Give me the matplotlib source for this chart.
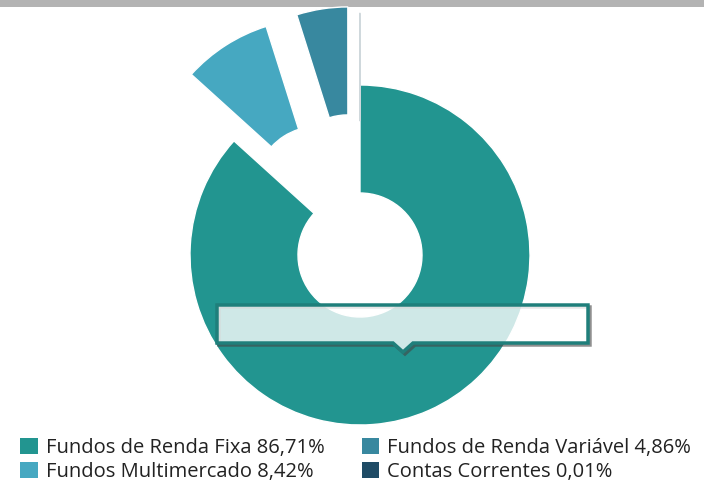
import matplotlib
matplotlib.use("Agg")
import matplotlib.pyplot as plt
from matplotlib.patches import Polygon, Rectangle

plt.rcParams['font.family'] = ['Open Sans', 'DejaVu Sans']

# data
categories = ['Fundos de Renda Fixa', 'Fundos Multimercado',
              'Fundos de Renda Variável', 'Contas Correntes']
values = [86.71, 8.42, 4.86, 0.01]
colors = ['#229590', '#46A8C1', '#38889F', '#1E4B65']
explode = [0, 79, 79, 72]

W, H = 704, 483
fig = plt.figure(figsize=(W / 100, H / 100), dpi=100)
ax = fig.add_axes([0, 0, 1, 1])
ax.set_xlim(0, W)
ax.set_ylim(0, H)
ax.set_aspect('equal')
ax.axis('off')

# grey band on top
ax.add_patch(Rectangle((0, H - 7), W, 7, color='#B3B3B3', lw=0))

cx, cy, r_out, r_in = 360, H - 255, 170, 62
wedges, _ = ax.pie(values, colors=colors, explode=explode, startangle=90,
                   counterclock=False, radius=r_out, center=(cx, cy),
                   wedgeprops=dict(width=r_out - r_in, edgecolor='white', linewidth=1))
wedges[-1].set_edgecolor('#cfd8dc')
wedges[-1].set_linewidth(0.8)
ax.set_xlim(0, W)
ax.set_ylim(0, H)

# empty tooltip box
x0, x1, yt, yb, tip = 217, 588, 305, 343, 403
pts = [(x0, yt), (x1, yt), (x1, yb), (tip + 10, yb), (tip, yb + 9), (tip - 10, yb), (x0, yb)]
shadow = Polygon([(x + 2, H - y - 2) for x, y in pts], closed=True, fill=False,
                 edgecolor='#444444', lw=2.5, alpha=0.6, zorder=5)
ax.add_patch(shadow)
box = Polygon([(x, H - y) for x, y in pts], closed=True, facecolor=(1, 1, 1, 0.79),
              edgecolor='#1F7F7B', lw=2.5, zorder=6)
ax.add_patch(box)

labels = [f"{c} {v:.2f}".replace('.', ',') + '%' for c, v in zip(categories, values)]
handles = [Rectangle((0, 0), 1, 1, facecolor=c, edgecolor='none') for c in colors]
fig.legend(handles, labels, ncol=2, loc='upper left', bbox_to_anchor=(0.029, 0.094),
           frameon=False, fontsize=14.5, handlelength=0.85, handleheight=0.85,
           handletextpad=0.4, columnspacing=1.86, labelspacing=0.23,
           borderpad=0, borderaxespad=0, labelcolor='#222222')

fig.savefig('out.png', dpi=100)
